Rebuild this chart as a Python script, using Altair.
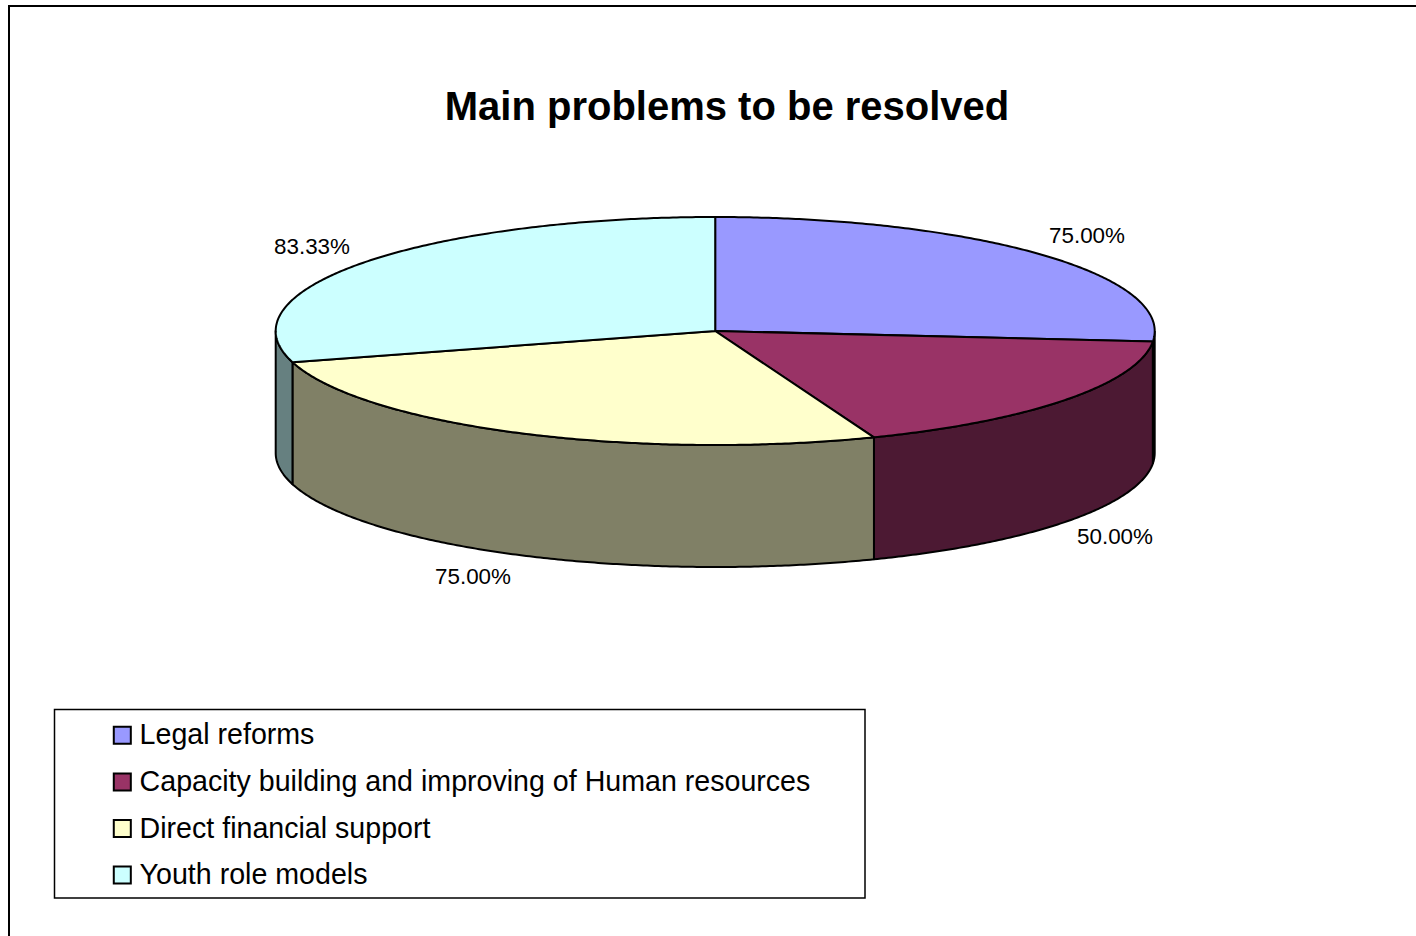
import math
import altair as alt
import pandas as pd

categories = ["Legal reforms", "Capacity building and improving of Human resources",
              "Direct financial support", "Youth role models"]
values = [75.0, 50.0, 75.0, 83.33]
value_labels = ["75.00%", "50.00%", "75.00%", "83.33%"]
top_colors = ["#9999FF", "#993366", "#FFFFCC", "#CCFFFF"]
side_colors = ["#4C4C80", "#4C1933", "#808066", "#668080"]

# Pie geometry on the page: centre, radii of the ellipse, thickness of the disc
CX, CY, RX, RY, DEPTH = 715.2, 331.0, 439.5, 114.0, 122.0
FONT = "Liberation Sans"
W, H = 1416, 936

x_scale = alt.Scale(domain=[0, W], range=[0, W], nice=False, zero=False)
y_scale = alt.Scale(domain=[0, H], range=[0, H], nice=False, zero=False)
X = alt.X("x:Q", scale=x_scale, axis=None)
Y = alt.Y("y:Q", scale=y_scale, axis=None)


def rim(angle):
    """Point on the top ellipse, angle in degrees clockwise from 12 o'clock."""
    a = math.radians(angle)
    return CX + RX * math.sin(a), CY - RY * math.cos(a)


# Slice start and end angles follow from the values
total = sum(values)
edges = [0.0]
for v in values:
    edges.append(edges[-1] + 360.0 * v / total)

top_rows, side_rows = [], []
for i, name in enumerate(categories):
    a0, a1 = edges[i], edges[i + 1]
    steps = max(2, int((a1 - a0) * 2))
    arc = [a0 + (a1 - a0) * k / steps for k in range(steps + 1)]
    pts = [(CX, CY)] + [rim(a) for a in arc] + [(CX, CY)]
    for k, (px, py) in enumerate(pts):
        top_rows.append({"name": name, "k": k, "x": px, "y": py})
    # The wall is visible only on the near half of the disc
    s0, s1 = max(a0, 90.0), min(a1, 270.0)
    if s1 > s0:
        n = max(2, int((s1 - s0) * 2))
        near = [s0 + (s1 - s0) * k / n for k in range(n + 1)]
        upper = [rim(a) for a in near]
        lower = [(px, py + DEPTH) for px, py in reversed(upper)]
        for k, (px, py) in enumerate(upper + lower + upper[:1]):
            side_rows.append({"name": name, "k": k, "x": px, "y": py})

top_df = pd.DataFrame(top_rows)
side_df = pd.DataFrame(side_rows)

label_df = pd.DataFrame({
    "x": [1087, 1115, 473, 312],
    "y": [236, 537, 577, 247],
    "label": value_labels,
})

walls = alt.Chart(side_df).mark_line(stroke="black", strokeWidth=2, strokeJoin="round").encode(
    x=X, y=Y, order="k:Q", detail="name:N",
    fill=alt.Fill("name:N", scale=alt.Scale(domain=categories, range=side_colors), legend=None),
)

tops = alt.Chart(top_df).mark_line(stroke="black", strokeWidth=2, strokeJoin="round").encode(
    x=X, y=Y, order="k:Q", detail="name:N",
    fill=alt.Fill(
        "name:N",
        scale=alt.Scale(domain=categories, range=top_colors),
        legend=alt.Legend(
            title=None, orient="none", legendX=108, legendY=721,
            symbolType="square", symbolSize=290, symbolStrokeColor="black",
            symbolStrokeWidth=2, symbolOpacity=1,
            labelFont=FONT, labelFontSize=28.6, labelColor="black", labelLimit=800,
            labelOffset=3, rowPadding=17.6, padding=0,
        ),
    ),
)

labels = alt.Chart(label_df).mark_text(font=FONT, fontSize=22.4, color="black").encode(
    x=X, y=Y, text="label:N"
)

title_df = pd.DataFrame({"x": [727], "y": [108], "t": ["Main problems to be resolved"]})
title = alt.Chart(title_df).mark_text(font=FONT, fontSize=40, fontWeight="bold", color="black").encode(
    x=X, y=Y, text="t:N"
)

box_df = pd.DataFrame({"x": [54.5], "x2": [865], "y": [709.5], "y2": [898]})
box = alt.Chart(box_df).mark_rect(fill="white", stroke="black", strokeWidth=1.5).encode(
    x=X, x2="x2:Q", y=Y, y2="y2:Q"
)

frame_df = pd.DataFrame({"x": [W, 9, 9], "y": [6, 6, H], "k": [0, 1, 2]})
frame = alt.Chart(frame_df).mark_line(stroke="black", strokeWidth=2).encode(x=X, y=Y, order="k:Q")

chart = (
    alt.layer(frame, box, walls, tops, labels, title)
    .resolve_scale(fill="independent")
    .properties(width=W, height=H, padding=0, background="white",
                autosize=alt.AutoSizeParams(type="none"))
    .configure_view(stroke=None)
)

chart.save("out.html", embed_options={"renderer": "svg", "actions": False})
